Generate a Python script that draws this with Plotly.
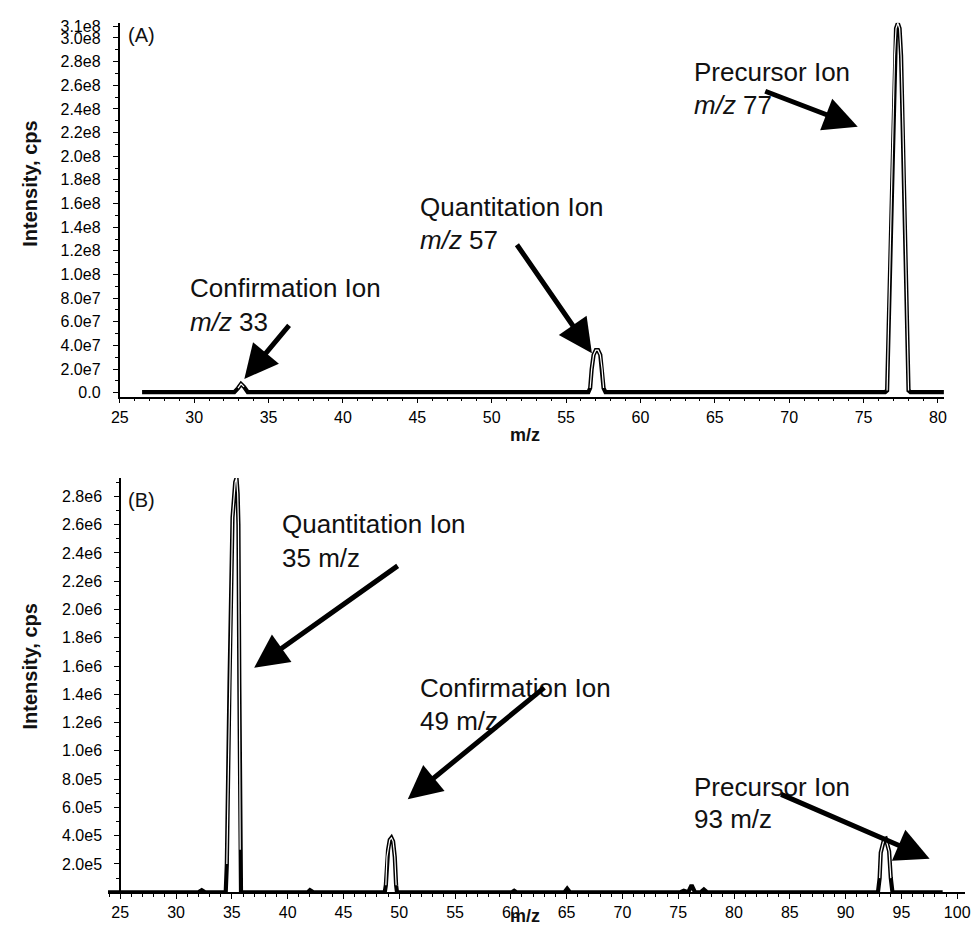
import plotly.graph_objects as go

# ---------------- data ----------------
# Panel A spectrum (m/z vs intensity, cps)
a_mz = [26.5, 32.7, 32.95, 33.15, 33.35, 33.6,
        56.5, 56.62, 56.72, 56.85, 57.0, 57.15, 57.3, 57.42, 57.52, 57.65,
        76.45, 76.58, 76.65, 76.8, 76.95, 77.08, 77.18, 77.3, 77.42, 77.52,
        77.65, 77.8, 77.95, 78.02, 78.15, 80.4]
a_int = [0.6e6, 0.6e6, 4e6, 7.5e6, 5e6, 0.6e6,
         0.6e6, 4e6, 20e6, 32e6, 36e6, 36e6, 32e6, 20e6, 4e6, 0.6e6,
         0.6e6, 2e6, 40e6, 130e6, 220e6, 285e6, 308e6, 312.5e6, 308e6, 285e6,
         220e6, 130e6, 40e6, 2e6, 0.6e6, 0.6e6]

# Panel B spectrum
b_mz = [23.9, 32.0, 32.3, 32.6,
        34.45, 34.55, 34.79, 35.06, 35.3, 35.42, 35.52, 35.59, 35.67, 35.75, 35.82,
        41.8, 42.0, 42.3,
        48.7, 48.8, 48.9, 49.0, 49.15, 49.3, 49.45, 49.6, 49.72, 49.8,
        60.1, 60.3, 60.5, 64.8, 65.05, 65.3,
        75.2, 75.5, 75.9, 76.2, 76.5, 77.0, 77.3, 77.6,
        92.9, 93.05, 93.15, 93.3, 93.45, 93.6, 93.75, 93.9, 94.05, 94.2, 98.7]
b_int = [0, 0, 1.5e4, 0,
         0, 2e5, 1.48e6, 2.65e6, 2.9e6, 2.93e6, 2.82e6, 2.6e6, 1.48e6, 3e5, 0,
         0, 1.5e4, 0,
         0, 5e4, 2.5e5, 3.0e5, 3.7e5, 3.85e5, 3.6e5, 2.5e5, 5e4, 0,
         0, 1e4, 0, 0, 2.5e4, 0,
         0, 1e4, 0, 5e4, 0, 0, 2e4, 0,
         0, 1e5, 2.8e5, 3.3e5, 3.75e5, 3.8e5, 3.4e5, 2.9e5, 1e5, 0, 0]

# tick labels
x_ticks_a = [25, 30, 35, 40, 45, 50, 55, 60, 65, 70, 75, 80]
x_ticks_b = [25, 30, 35, 40, 45, 50, 55, 60, 65, 70, 75, 80, 85, 90, 95, 100]
y_ticks_a = [0, 2e7, 4e7, 6e7, 8e7, 1e8, 1.2e8, 1.4e8, 1.6e8, 1.8e8, 2.0e8,
             2.2e8, 2.4e8, 2.6e8, 2.8e8, 3.0e8, 3.1e8]
y_text_a = ["0.0", "2.0e7", "4.0e7", "6.0e7", "8.0e7", "1.0e8", "1.2e8", "1.4e8",
            "1.6e8", "1.8e8", "2.0e8", "2.2e8", "2.4e8", "2.6e8", "2.8e8",
            "3.0e8", "3.1e8"]
y_ticks_b = [2e5, 4e5, 6e5, 8e5, 1e6, 1.2e6, 1.4e6, 1.6e6, 1.8e6, 2.0e6,
             2.2e6, 2.4e6, 2.6e6, 2.8e6]
y_text_b = ["2.0e5", "4.0e5", "6.0e5", "8.0e5", "1.0e6", "1.2e6", "1.4e6",
            "1.6e6", "1.8e6", "2.0e6", "2.2e6", "2.4e6", "2.6e6", "2.8e6"]

# ---------------- layout helpers ----------------
W, H = 975, 930
FONT = "Arial, Liberation Sans, Helvetica, sans-serif"


def px(x):
    return x / W


def py(y):
    return 1 - y / H


fig = go.Figure()

# spectra: thick black stroke, thin white core on the peaks (hollow look)
a_base = min(a_int)
a_core = [v if v > a_base else None for v in a_int]
b_core = [v if v > 0 else None for v in b_int]
for xs, ys, core, xa, ya in [(a_mz, a_int, a_core, "x", "y"),
                             (b_mz, b_int, b_core, "x2", "y2")]:
    fig.add_trace(go.Scatter(x=xs, y=ys, xaxis=xa, yaxis=ya, mode="lines",
                             line=dict(color="black", width=4.2),
                             showlegend=False, hoverinfo="skip"))
    fig.add_trace(go.Scatter(x=xs, y=core, xaxis=xa, yaxis=ya, mode="lines",
                             line=dict(color="white", width=1.2),
                             connectgaps=False,
                             showlegend=False, hoverinfo="skip"))

tickfont = dict(family=FONT, size=16, color="black")
common_x = dict(showgrid=False, zeroline=False, showline=True, linecolor="black",
                linewidth=1.5, ticks="outside", ticklen=5, tickwidth=1.2,
                tickcolor="black", tickfont=tickfont,
                minor=dict(ticks="outside", ticklen=3, dtick=1, tick0=0,
                           tickcolor="black", tickwidth=1))
common_y = dict(showgrid=False, zeroline=False, showline=True, linecolor="black",
                linewidth=2, ticks="outside", ticklen=5, tickwidth=1.2,
                tickcolor="black", tickfont=tickfont, tickmode="array",
                ticklabelstandoff=9)

# Panel A axes: 25 -> 112.5px, 80 -> 943.5px ; 0 -> 392px, 3.0e8 -> 33.3px
a_scale = (943.5 - 112.5) / 55.0
a_right = 112.5 + (80.4 - 25) * a_scale
y_scale_a = (392 - 33.3) / 3.0e8
a_ybot = -(396 - 392) / y_scale_a
a_ytop = (392 - 18) / y_scale_a

fig.update_layout(
    xaxis=dict(common_x, domain=[px(112.5), px(a_right)], range=[25, 80.4],
               anchor="y", tickvals=x_ticks_a),
    yaxis=dict(common_y, domain=[py(396), py(18)], range=[a_ybot, a_ytop],
               anchor="x", tickvals=y_ticks_a, ticktext=y_text_a,
               minor=dict(ticks="outside", ticklen=3, tickmode="linear",
                          tick0=0, dtick=1e7, tickcolor="black")),
)

# Panel B axes: 25 -> 113px, 100 -> 963px ; 0 -> 896.9px, 2.8e6 -> 496.7px
b_scale = (963 - 113) / 75.0
b_left = 113 + (23.9 - 25) * b_scale
b_right = 113 + (100.7 - 25) * b_scale
y_scale_b = (896.9 - 496.7) / 2.8e6
b_ytop_px = 896.9 - 2.93e6 * y_scale_b

fig.update_layout(
    xaxis2=dict(common_x, domain=[px(b_left), px(b_right)], range=[23.9, 100.7],
                anchor="y2", tickvals=x_ticks_b),
    yaxis2=dict(common_y, domain=[py(896.9), py(b_ytop_px)], range=[0, 2.93e6],
                anchor="free", position=px(113), tickvals=y_ticks_b,
                ticktext=y_text_b,
                minor=dict(ticks="outside", ticklen=3, tickmode="linear",
                           tick0=0, dtick=1e5, tickcolor="black")),
)

ann = []


def label(text, x, y, size=26, xanchor="left", angle=0):
    ann.append(dict(text=text, x=px(x), y=py(y), xref="paper", yref="paper",
                    xanchor=xanchor, yanchor="middle", showarrow=False,
                    textangle=angle,
                    font=dict(family=FONT, size=size, color="#111111")))


def arrow(head, tail):
    ann.append(dict(text="", x=px(head[0]), y=py(head[1]), xref="paper",
                    yref="paper", ax=tail[0] - head[0], ay=tail[1] - head[1],
                    axref="pixel", ayref="pixel", showarrow=True,
                    arrowhead=2, arrowsize=1.35, arrowwidth=5,
                    arrowcolor="black", standoff=0))


# Panel A text
label("(A)", 119, 30, size=20)
label("Confirmation Ion", 182, 286)
label("<i>m/z</i> 33", 182, 320)
label("Quantitation Ion", 415, 204)
label("<i>m/z</i> 57", 415, 238)
label("Precursor Ion", 694, 68)
label("<i>m/z</i> 77", 694, 101)
label("<b>Intensity, cps</b>", 21, 181, size=20, xanchor="center", angle=-90)
label("<b>m/z</b>", 524, 435, size=18, xanchor="center")

arrow((239, 378), (285, 323))
arrow((592, 352), (516, 242))
arrow((862, 123), (768, 87))

# Panel B text
label("(B)", 119, 500, size=20)
label("Quantitation Ion", 275, 525)
label("35 m/z", 275, 559)
label("Confirmation Ion", 415, 690)
label("49 m/z", 415, 724)
label("Precursor Ion", 694, 790)
label("93 m/z", 694, 823)
label("<b>Intensity, cps</b>", 21, 669, size=20, xanchor="center", angle=-90)
label("<b>m/z</b>", 524, 921, size=18, xanchor="center")

arrow((249, 670), (394, 567))
arrow((405, 803), (543, 690))
arrow((935, 863), (785, 798))

fig.update_layout(
    annotations=ann,
    width=W, height=H, autosize=False,
    margin=dict(l=0, r=0, t=0, b=0),
    paper_bgcolor="white", plot_bgcolor="white",
    showlegend=False,
)

fig.write_html("out.html", config={"displayModeBar": False},
               post_script="document.body.style.margin='0';"
                           "document.body.style.overflow='hidden';")
